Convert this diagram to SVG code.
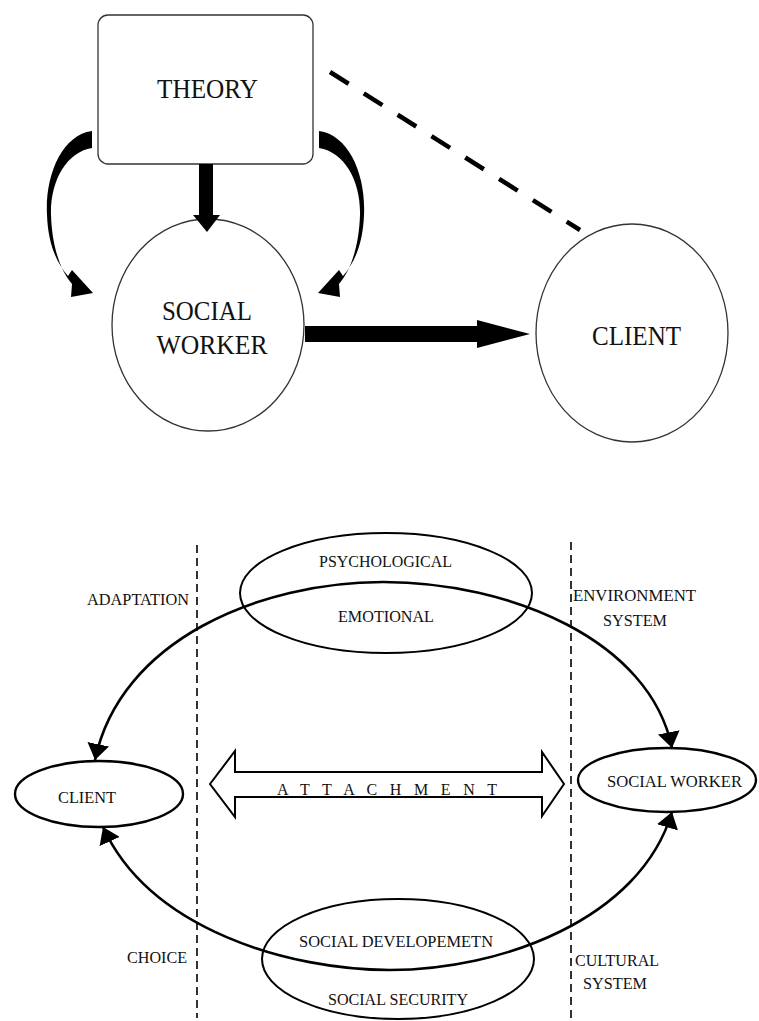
<svg xmlns="http://www.w3.org/2000/svg" width="759" height="1021" viewBox="0 0 759 1021">
<style>
  .big { font-size: 28px; fill: #111; }
  .small { font-size: 16.5px; fill: #111; }
  .thin { fill: #fff; stroke: #333; stroke-width: 1.3; }
  .oval { fill: none; stroke: #000; stroke-width: 2.4; }
  .arc { fill: none; stroke: #000; stroke-width: 2.6; }
  .vdash { stroke: #000; stroke-width: 1.6; stroke-dasharray: 8 5; fill: none; }
  .solid { fill: #000; stroke: none; }
</style>
<defs>
  <marker id="head" viewBox="0 0 16 22" refX="16" refY="11" markerWidth="16" markerHeight="22" markerUnits="userSpaceOnUse" orient="auto-start-reverse">
    <path d="M0,0 L16,11 L0,22 z" fill="#000"/>
  </marker>
</defs>
<rect width="759" height="1021" fill="#fff"/>

<!-- top diagram nodes -->
<g id="theory" font-family="Liberation Serif">
  <rect class="thin" x="98" y="15" width="215" height="149" rx="10" ry="10"/>
  <text class="big" x="207.5" y="98" text-anchor="middle" textLength="101" lengthAdjust="spacingAndGlyphs">THEORY</text>
</g>
<g id="social-worker-top" font-family="Liberation Serif">
  <ellipse class="thin" cx="208" cy="325" rx="96" ry="106"/>
  <text class="big" x="207" y="320" text-anchor="middle" textLength="90" lengthAdjust="spacingAndGlyphs">SOCIAL</text>
  <text class="big" x="212" y="354" text-anchor="middle" textLength="111" lengthAdjust="spacingAndGlyphs">WORKER</text>
</g>
<g id="client-top" font-family="Liberation Serif">
  <ellipse class="thin" cx="632" cy="333" rx="96" ry="109"/>
  <text class="big" x="636.5" y="345" text-anchor="middle" textLength="89" lengthAdjust="spacingAndGlyphs">CLIENT</text>
</g>

<!-- top diagram connectors -->
<g id="connectors-top">
  <line x1="330" y1="72" x2="580" y2="230" stroke="#000" stroke-width="4.5" stroke-dasharray="22 18"/>
  <polygon class="solid" points="199,164 213,164 213,215 220,215 207,232 193,215 199,215"/>
  <polygon class="solid" points="305,326 477,326 477,320 530,334 477,348 477,342 305,342"/>
  <path id="curl-left" class="solid" d="M92,131 C62,135 45,175 47,215 C48,243 56,262 68,276 L72,270 L93,293 L71,297 L72,284 C60,270 52,246 51,215 C50,182 66,152 92,148 Z"/>
  <use href="#curl-left" transform="translate(411,0) scale(-1,1)"/>
</g>

<!-- bottom diagram -->
<g id="dividers">
  <line class="vdash" x1="197" y1="545" x2="197" y2="1018"/>
  <line class="vdash" x1="571" y1="542" x2="571" y2="1018"/>
</g>

<g id="psych-emotional" font-family="Liberation Serif">
  <ellipse cx="386" cy="593" rx="146" ry="60" fill="none" stroke="#000" stroke-width="2"/>
  <text class="small" x="385.5" y="567" text-anchor="middle" textLength="133" lengthAdjust="spacingAndGlyphs">PSYCHOLOGICAL</text>
  <text class="small" x="386" y="622" text-anchor="middle" textLength="96" lengthAdjust="spacingAndGlyphs">EMOTIONAL</text>
</g>
<g id="social-dev-security" font-family="Liberation Serif">
  <ellipse cx="398" cy="959" rx="136" ry="60" fill="none" stroke="#000" stroke-width="2"/>
  <text class="small" x="396" y="947" text-anchor="middle" textLength="194" lengthAdjust="spacingAndGlyphs">SOCIAL DEVELOPEMETN</text>
  <text class="small" x="398" y="1005" text-anchor="middle" textLength="140" lengthAdjust="spacingAndGlyphs">SOCIAL SECURITY</text>
</g>
<g id="client-bottom" font-family="Liberation Serif">
  <ellipse class="oval" cx="99" cy="794" rx="84" ry="33" fill="#fff"/>
  <text class="small" x="87" y="803" text-anchor="middle" textLength="58" lengthAdjust="spacingAndGlyphs">CLIENT</text>
</g>
<g id="social-worker-bottom" font-family="Liberation Serif">
  <ellipse class="oval" cx="667" cy="780" rx="89" ry="32" fill="#fff"/>
  <text class="small" x="674.5" y="787" text-anchor="middle" textLength="135" lengthAdjust="spacingAndGlyphs">SOCIAL WORKER</text>
</g>
<g id="attachment" font-family="Liberation Serif">
  <polygon points="210,784 235,751 235,772 542,772 542,752 564,784 542,816 542,797 235,797 235,817" fill="#fff" stroke="#000" stroke-width="2"/>
  <text x="387" y="795" font-size="16" fill="#111" text-anchor="middle" textLength="220" lengthAdjust="spacing">A T T A C H M E N T</text>
</g>

<g id="labels" font-family="Liberation Serif">
  <text class="small" x="138" y="605" text-anchor="middle" textLength="102" lengthAdjust="spacingAndGlyphs">ADAPTATION</text>
  <text class="small" x="634.5" y="601" text-anchor="middle" textLength="123" lengthAdjust="spacingAndGlyphs">ENVIRONMENT</text>
  <text class="small" x="635" y="626" text-anchor="middle" textLength="64" lengthAdjust="spacingAndGlyphs">SYSTEM</text>
  <text class="small" x="157" y="963" text-anchor="middle" textLength="60" lengthAdjust="spacingAndGlyphs">CHOICE</text>
  <text class="small" x="617" y="966" text-anchor="middle" textLength="84" lengthAdjust="spacingAndGlyphs">CULTURAL</text>
  <text class="small" x="615" y="989" text-anchor="middle" textLength="64" lengthAdjust="spacingAndGlyphs">SYSTEM</text>
</g>

<g id="connectors-bottom">
  <path class="arc" d="M95,760 C120,640 260,582 383,582 C510,582 650,640 672,748" marker-start="url(#head)" marker-end="url(#head)"/>
  <path class="arc" d="M103,827 C150,930 290,970 390,970 C500,970 640,920 672,812" marker-start="url(#head)" marker-end="url(#head)"/>
</g>
</svg>
